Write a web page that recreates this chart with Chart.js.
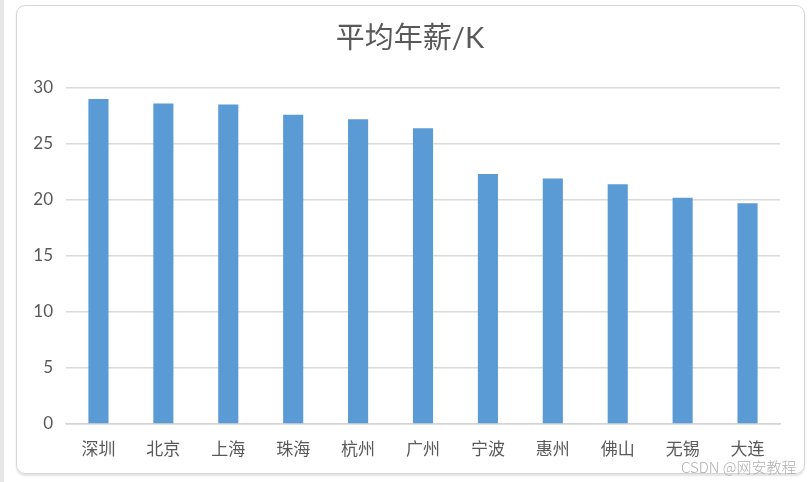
<!DOCTYPE html>
<html>
<head>
<meta charset="utf-8">
<script src="https://cdn.jsdelivr.net/npm/chart.js@4"></script>
<style>
  html, body { margin: 0; padding: 0; background: #fff; }
  #page { position: relative; width: 809px; height: 482px; overflow: hidden; }
  #strip { position: absolute; left: 0; top: 0; width: 4px; height: 482px; background: #e6e6e6; }
  #frame { position: absolute; left: 16px; top: 5px; width: 787px; height: 467px;
           border: 1px solid #d6d6d6; border-radius: 9px; box-shadow: 0 2px 2px #e4e4e4; }
  #chart2 { position: absolute; left: 0; top: 0; }
  #mark { position: absolute; left: 681px; top: 456px; font: 300 15px "Noto Sans CJK SC", "Noto Sans"; color: #b0b0b0; }
</style>
</head>
<body>
<div id="page">
  <div id="strip"></div>
  <div id="frame"></div>
  <canvas id="chart2" width="809" height="482"></canvas>
  <div id="mark">CSDN @网安教程</div>
</div>
<script>
const cities = ['深圳', '北京', '上海', '珠海', '杭州', '广州', '宁波', '惠州', '佛山', '无锡', '大连'];
const salaries = [29.0, 28.6, 28.5, 27.6, 27.2, 26.4, 22.3, 21.9, 21.4, 20.2, 19.7];
const yTicks = [0, 5, 10, 15, 20, 25, 30];

const ctx2 = document.getElementById('chart2').getContext('2d');

const myChart2 = new Chart(ctx2, {
    type: 'bar',
    data: {
        labels: cities,
        datasets: [{
            label: '平均年薪/K',
            data: salaries,
            backgroundColor: '#5b9bd5',
            borderWidth: 0,
            categoryPercentage: 1,
            barPercentage: 0.31
        }]
    },
    options: {
        responsive: false,
        animation: false,
        layout: { padding: { left: 11, right: 0, top: 0, bottom: 0 } },
        plugins: {
            legend: { display: false },
            tooltip: { enabled: false },
            title: {
                display: true,
                text: '平均年薪/K',
                color: '#595959',
                font: { family: 'Lato, "Noto Sans CJK SC"', size: 29, weight: 'normal' },
                padding: { top: 21, bottom: 32 }
            }
        },
        scales: {
            x: {
                grid: { display: false, drawTicks: false },
                border: { color: '#d4d4d4', width: 1.5 },
                ticks: {
                    color: '#595959',
                    padding: 14,
                    font: { family: '"Noto Sans CJK SC"', size: 17 }
                },
                afterFit: s => { s.height = 58; }
            },
            y: {
                min: 0,
                max: 30,
                afterBuildTicks: s => { s.ticks = yTicks.map(v => ({ value: v })); },
                grid: { color: '#dadada', lineWidth: 1.5, drawTicks: false },
                border: { display: false },
                ticks: {
                    color: '#595959',
                    padding: 13,
                    font: { family: 'Lato', size: 17 }
                },
                afterFit: s => { s.width = 55; }
            },
            // empty axis on the right, only to keep space
            y2: {
                position: 'right',
                min: 0,
                max: 30,
                grid: { display: false, drawTicks: false },
                border: { display: false },
                ticks: { display: false },
                afterFit: s => { s.width = 29; }
            }
        }
    }
});
</script>
</body>
</html>
